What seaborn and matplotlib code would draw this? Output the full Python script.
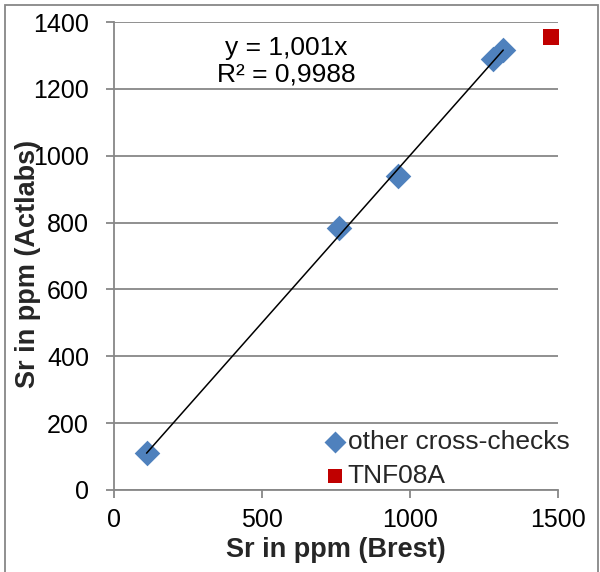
import matplotlib
matplotlib.use("Agg")
import matplotlib.pyplot as plt
import seaborn as sns
import pandas as pd
import numpy as np
from matplotlib.patches import Rectangle

sns.set_theme(style="white")
plt.rcParams['font.family'] = ['Liberation Sans', 'DejaVu Sans']

# data
brest = [110, 760, 960, 1280, 1315]
actlabs = [110, 785, 940, 1290, 1315]
tnf_x = [1478]
tnf_y = [1355]
slope = 1.001
eq_lines = ["y = 1,001x", "R² = 0,9988"]
x_ticks = [0, 500, 1000, 1500]
y_ticks = [0, 200, 400, 600, 800, 1000, 1200, 1400]

df_other = pd.DataFrame({"x": brest, "y": actlabs})
df_tnf = pd.DataFrame({"x": tnf_x, "y": tnf_y})

fig = plt.figure(figsize=(6.0, 5.72), dpi=100)
ax = fig.add_axes([0.19, 0.1434, 0.74, 0.818])

gray = "#878787"
ax.set_xlim(0, 1500)
ax.set_ylim(0, 1400)
ax.set_yticks(y_ticks)
ax.set_xticks(x_ticks)
ax.yaxis.grid(True, color=gray, linewidth=1.3)
ax.set_axisbelow(True)

sns.scatterplot(data=df_other, x="x", y="y", marker="D", color="#4F81BD",
                s=170, linewidth=0, ax=ax, zorder=2, label="other cross-checks")
sns.scatterplot(data=df_tnf, x="x", y="y", marker="s", color="#C00000",
                s=120, linewidth=0, ax=ax, zorder=2, label="TNF08A")

# trendline
tx = np.array([min(brest), max(brest)])
sns.lineplot(x=tx, y=slope * tx, ax=ax, color="black", linewidth=1.1, zorder=4,
             legend=False)

ax.text(581, 1323, eq_lines[0], ha="center", va="center", fontsize=19, color="black")
ax.text(581, 1242, eq_lines[1], ha="center", va="center", fontsize=19, color="black")

for side in ["top", "right"]:
    ax.spines[side].set_visible(False)
for side in ["left", "bottom"]:
    ax.spines[side].set_color(gray)
    ax.spines[side].set_linewidth(1.3)

ax.tick_params(axis="both", which="major", direction="out", length=6, width=1.3,
               color=gray, labelsize=18, labelcolor="black", left=True, bottom=True)
ax.tick_params(axis="x", pad=7)
ax.tick_params(axis="y", pad=12)

ax.set_xlabel("Sr in ppm (Brest)", fontsize=19.5, fontweight="bold")
ax.set_ylabel("Sr in ppm (Actlabs)", fontsize=19.5, fontweight="bold")
ax.xaxis.set_label_coords(0.5, (490 - 550) / 468)
ax.xaxis.label.set_va("center")
ax.yaxis.set_label_coords((28 - 114) / 444, (490 - 264) / 468)
ax.yaxis.label.set_va("center")

leg = ax.legend(loc="center left", bbox_to_anchor=(324 / 600, 1 - 459 / 572),
                bbox_transform=fig.transFigure, frameon=False,
                fontsize=19, handlelength=0.8, handletextpad=0.1,
                labelspacing=0.4, borderpad=0, borderaxespad=0)
leg.legend_handles[0].set_sizes([125])
leg.legend_handles[1].set_sizes([115])

fig.patches.append(Rectangle((0.008, -0.02), 0.988, 1.011, transform=fig.transFigure,
                             fill=False, edgecolor=gray, linewidth=1.3))

fig.savefig("out.png", dpi=100)
